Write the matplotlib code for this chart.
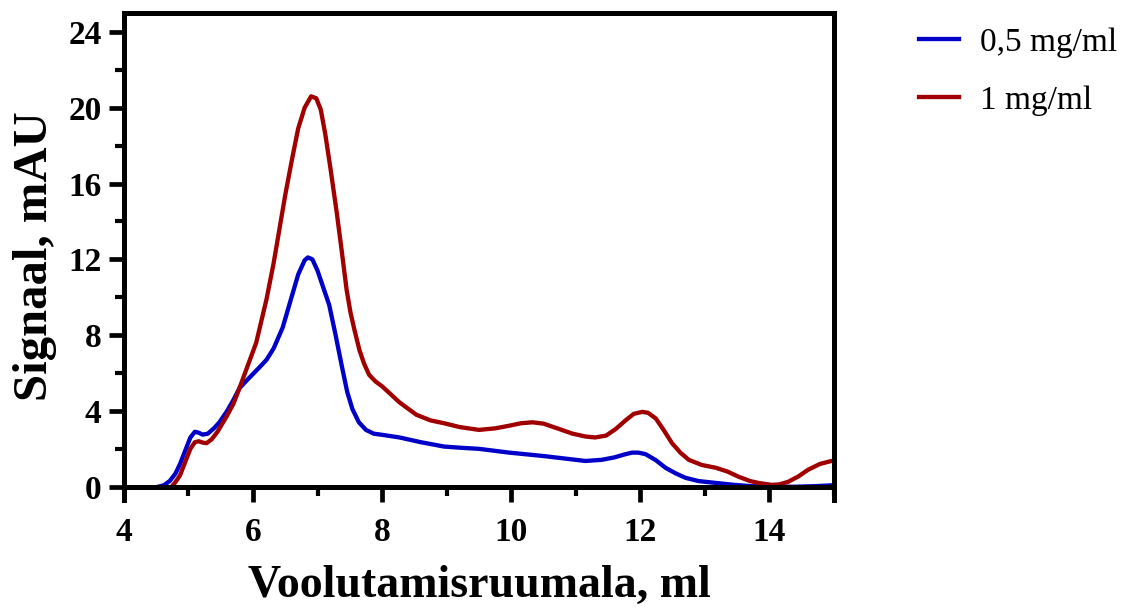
import matplotlib
matplotlib.use('Agg')
import matplotlib.pyplot as plt
from matplotlib.ticker import MultipleLocator

# ---- data ----
x_low = [4.53, 4.62, 4.71, 4.80, 4.87, 4.95, 5.03, 5.10, 5.16, 5.22, 5.30, 5.40, 5.48, 5.60,
         5.70, 5.79, 5.90, 6.00, 6.10, 6.21, 6.32, 6.46, 6.58, 6.70, 6.80, 6.85, 6.92, 7.00,
         7.08, 7.18, 7.28, 7.38, 7.46, 7.54, 7.64, 7.75, 7.87, 8.00, 8.27, 8.60, 8.96, 9.25,
         9.50, 9.97, 10.50, 10.80, 11.15, 11.40, 11.60, 11.75, 11.87, 11.97, 12.08, 12.24,
         12.39, 12.55, 12.70, 12.90, 13.17, 13.45, 13.72, 14.00, 14.40, 14.70, 15.00]
y_low = [0.0, 0.08, 0.3, 0.7, 1.2, 1.9, 2.6, 2.9, 2.85, 2.75, 2.8, 3.1, 3.4, 4.0,
         4.6, 5.2, 5.6, 5.95, 6.3, 6.7, 7.3, 8.4, 9.8, 11.2, 11.95, 12.1, 12.0, 11.4,
         10.6, 9.6, 8.0, 6.3, 5.0, 4.1, 3.4, 3.0, 2.8, 2.74, 2.6, 2.35, 2.12, 2.05,
         2.0, 1.8, 1.62, 1.5, 1.36, 1.42, 1.55, 1.7, 1.8, 1.8, 1.72, 1.4,
         1.0, 0.7, 0.47, 0.3, 0.2, 0.1, 0.03, 0.0, 0.0, 0.03, 0.08]

x_high = [4.74, 4.80, 4.87, 4.95, 5.03, 5.10, 5.16, 5.22, 5.28, 5.36, 5.45, 5.59, 5.70,
          5.79, 5.92, 6.05, 6.21, 6.32, 6.41, 6.50, 6.60, 6.70, 6.80, 6.90, 6.98, 7.05,
          7.12, 7.20, 7.30, 7.38, 7.45, 7.51, 7.57, 7.65, 7.72, 7.80, 7.90, 8.00, 8.27,
          8.53, 8.75, 8.96, 9.20, 9.50, 9.75, 9.97, 10.15, 10.33, 10.50, 10.74, 10.95,
          11.15, 11.30, 11.47, 11.62, 11.77, 11.90, 12.03, 12.12, 12.24, 12.36, 12.49,
          12.62, 12.75, 12.95, 13.17, 13.35, 13.52, 13.70, 13.83, 14.03, 14.15, 14.29,
          14.45, 14.60, 14.78, 14.96, 15.00]
y_high = [0.0, 0.25, 0.6, 1.3, 2.0, 2.35, 2.4, 2.33, 2.3, 2.5, 2.9, 3.7, 4.4,
          5.2, 6.4, 7.6, 9.9, 11.8, 13.6, 15.4, 17.2, 18.9, 20.0, 20.6, 20.5, 19.9,
          18.6, 16.8, 14.4, 12.3, 10.4, 9.2, 8.3, 7.2, 6.5, 5.9, 5.55, 5.3, 4.45,
          3.8, 3.5, 3.35, 3.15, 3.0, 3.08, 3.22, 3.35, 3.4, 3.33, 3.05, 2.8,
          2.65, 2.6, 2.7, 3.05, 3.5, 3.85, 3.95, 3.9, 3.6, 3.0, 2.3,
          1.8, 1.42, 1.15, 1.0, 0.8, 0.53, 0.3, 0.2, 0.1, 0.12, 0.26,
          0.55, 0.9, 1.2, 1.36, 1.36]

labels = ['0,5 mg/ml', '1 mg/ml']
colors = ['#0000C8', '#A00000']

plt.rcParams['font.family'] = ['Liberation Serif', 'DejaVu Serif']

fig = plt.figure(figsize=(11.26, 6.12), dpi=100)
ax = fig.add_axes([0.110, 0.183, 0.6307, 0.7958])

ax.plot(x_low, y_low, color=colors[0], lw=3.1, label=labels[0])
ax.plot(x_high, y_high, color=colors[1], lw=3.1, label=labels[1])

ax.set_xlim(4, 15)
ax.set_ylim(-0.7, 25)
ax.spines['bottom'].set_position(('data', 0))
for s in ax.spines.values():
    s.set_linewidth(3.6)

ax.xaxis.set_major_locator(MultipleLocator(2))
ax.xaxis.set_minor_locator(MultipleLocator(1))
ax.yaxis.set_major_locator(MultipleLocator(4))
ax.yaxis.set_minor_locator(MultipleLocator(2))
ax.set_yticks([0, 4, 8, 12, 16, 20, 24])
ax.tick_params(which='major', length=11, width=3.4, labelsize=24)
ax.tick_params(which='minor', length=6.5, width=3.0)
ax.tick_params(axis='x', which='major', pad=11)
ax.tick_params(axis='y', which='major', pad=5)
for t in ax.get_xticklabels() + ax.get_yticklabels():
    t.set_fontweight('bold')

ax.set_xlabel('Voolutamisruumala, ml', fontsize=33, fontweight='bold', labelpad=12)
ax.set_ylabel('Signaal, mAU', fontsize=35, fontweight='bold', labelpad=8)

fig.legend(loc='upper left', bbox_to_anchor=(0.816, 0.955), frameon=False,
           fontsize=24, handlelength=1.2, handletextpad=0.65, labelspacing=0.82,
           borderpad=0, borderaxespad=0)

fig.savefig('out.png', dpi=100)
